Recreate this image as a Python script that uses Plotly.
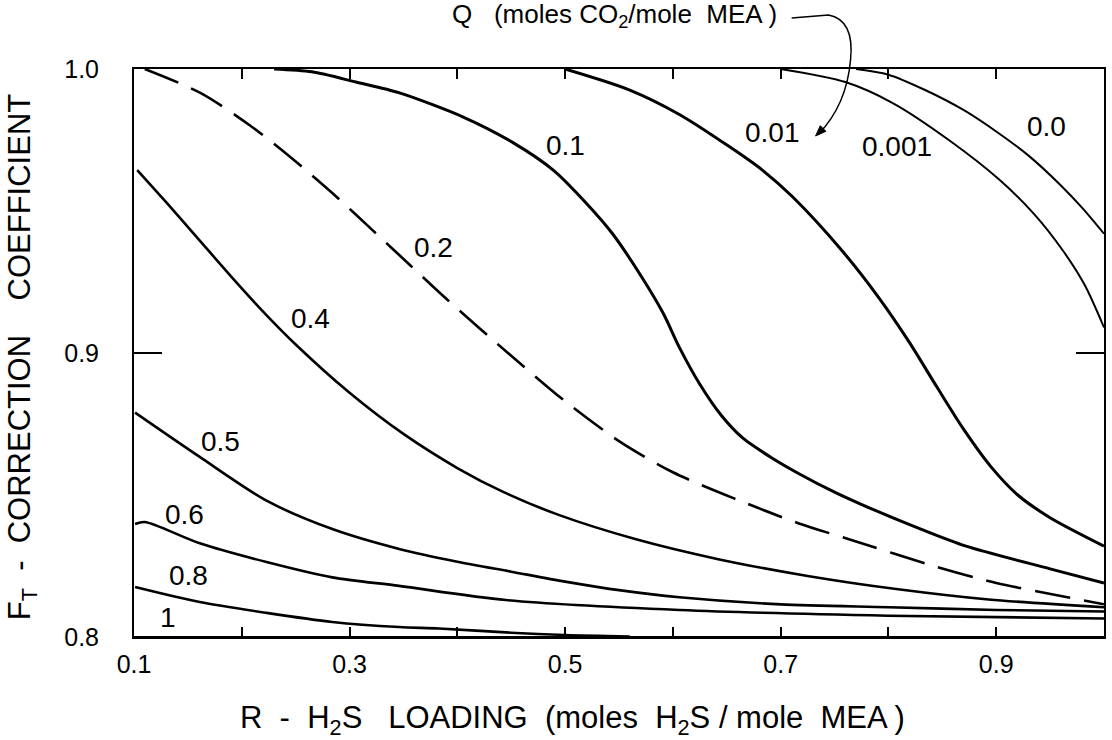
import plotly.graph_objects as go

# H2S loading R (moles H2S / mole MEA) and correction coefficient F_T, one pair per CO2 loading Q
r_q0 = [0.77, 0.80, 0.834, 0.87, 0.90, 0.93, 0.96, 0.98, 1.0]
f_q0 = [1.0, 0.998, 0.9926, 0.9855, 0.978, 0.9695, 0.959, 0.951, 0.942]

r_q0001 = [0.70, 0.76, 0.804, 0.856, 0.903, 0.935, 0.962, 0.982, 1.0]
f_q0001 = [1.0, 0.9954, 0.988, 0.975, 0.961, 0.949, 0.936, 0.924, 0.909]

r_q001 = [0.50, 0.56, 0.606, 0.653, 0.683, 0.711, 0.757, 0.792, 0.819, 0.845, 0.87, 0.895, 0.92, 0.95, 1.0]
f_q001 = [1.0, 0.9926, 0.984, 0.9725, 0.9644, 0.955, 0.936, 0.919, 0.904, 0.888, 0.873, 0.860, 0.850, 0.842,
          0.832]

r_q01 = [0.23, 0.265, 0.306, 0.347, 0.406, 0.452, 0.489, 0.519, 0.544, 0.569, 0.591, 0.606, 0.625, 0.645,
         0.665, 0.69, 0.717, 0.75, 0.779, 0.83, 0.872, 0.95, 1.0]
f_q01 = [1.0, 0.999, 0.9954, 0.9915, 0.983, 0.974, 0.9644, 0.953, 0.942, 0.928, 0.914, 0.902, 0.889, 0.878,
         0.870, 0.8635, 0.8575, 0.851, 0.846, 0.838, 0.832, 0.824, 0.819]

r_q02 = [0.11, 0.162, 0.208, 0.245, 0.285, 0.322, 0.356, 0.39, 0.45, 0.5, 0.55, 0.6, 0.662, 0.717, 0.767,
         0.842, 0.9, 0.966, 1.0]
f_q02 = [1.0, 0.9915, 0.980, 0.969, 0.956, 0.943, 0.931, 0.919, 0.899, 0.883, 0.869, 0.858, 0.848, 0.840,
         0.834, 0.825, 0.819, 0.814, 0.8115]

r_q04 = [0.103, 0.13, 0.16, 0.19, 0.22, 0.25, 0.3, 0.35, 0.4, 0.443, 0.494, 0.565, 0.641, 0.725, 0.809,
         0.893, 1.0]
f_q04 = [0.9644, 0.953, 0.940, 0.927, 0.9145, 0.903, 0.886, 0.8715, 0.8595, 0.851, 0.843, 0.8345, 0.8275,
         0.8215, 0.8168, 0.8132, 0.8105]

r_q05 = [0.101, 0.161, 0.223, 0.284, 0.346, 0.4, 0.45, 0.5, 0.55, 0.606, 0.7, 0.8, 0.9, 1.0]
f_q05 = [0.879, 0.8634, 0.848, 0.838, 0.831, 0.8265, 0.823, 0.8195, 0.8165, 0.814, 0.8115, 0.8105, 0.8095,
         0.809]

r_q06 = [0.101, 0.11, 0.161, 0.223, 0.284, 0.346, 0.445, 0.606, 0.8, 1.0]
f_q06 = [0.8398, 0.8405, 0.833, 0.8264, 0.821, 0.818, 0.813, 0.8095, 0.8075, 0.8065]

r_q08 = [0.101, 0.161, 0.223, 0.284, 0.346, 0.383, 0.45, 0.5, 0.56]
f_q08 = [0.8176, 0.8123, 0.8085, 0.8053, 0.8035, 0.803, 0.8015, 0.8007, 0.8002]

r_q1 = [0.1, 0.4, 0.7, 1.0]
f_q1 = [0.8, 0.8, 0.8, 0.8]

# curve label text and where each label sits (R, F_T)
q_labels = ["0.0", "0.001", "0.01", "0.1", "0.2", "0.4", "0.5", "0.6", "0.8", "1"]
label_r = [0.947, 0.808, 0.692, 0.500, 0.378, 0.264, 0.180, 0.147, 0.151, 0.1315]
label_f = [0.9796, 0.9727, 0.9775, 0.9732, 0.9373, 0.9123, 0.869, 0.8433, 0.8215, 0.8067]

x_tick_vals = [0.1, 0.3, 0.5, 0.7, 0.9]
x_tick_text = ["0.1", "0.3", "0.5", "0.7", "0.9"]
x_minor_vals = [0.2, 0.4, 0.6, 0.8]
y_tick_vals = [0.8, 0.9, 1.0]
y_tick_text = ["0.8", "0.9", "1.0"]

FONT = "Liberation Sans, Arial, sans-serif"
INK = "black"

series = [
    (r_q0, f_q0, 2.0, "solid"),
    (r_q0001, f_q0001, 2.0, "solid"),
    (r_q001, f_q001, 3.0, "solid"),
    (r_q01, f_q01, 3.0, "solid"),
    (r_q02, f_q02, 2.6, "36px,14px"),
    (r_q04, f_q04, 2.6, "solid"),
    (r_q05, f_q05, 2.6, "solid"),
    (r_q06, f_q06, 2.6, "solid"),
    (r_q08, f_q08, 2.6, "solid"),
    (r_q1, f_q1, 2.0, "solid"),
]

fig = go.Figure()
for (rx, fy, w, dash), name in zip(series, q_labels):
    fig.add_trace(go.Scatter(
        x=rx, y=fy, mode="lines", name=name,
        line=dict(color=INK, width=w, dash=dash, shape="spline", smoothing=0.8),
        hoverinfo="skip",
    ))

annotations = []
for txt, lx, ly in zip(q_labels, label_r, label_f):
    annotations.append(dict(
        x=lx, y=ly, xref="x", yref="y", text=txt, showarrow=False,
        font=dict(family=FONT, size=28, color=INK), xanchor="center", yanchor="middle",
    ))

# axis titles
annotations.append(dict(
    x=0.4517, y=-0.146, xref="paper", yref="paper",
    text="R  -  H<sub>2</sub>S   LOADING  (moles  H<sub>2</sub>S / mole  MEA )",
    showarrow=False, font=dict(family=FONT, size=31, color=INK),
    xanchor="center", yanchor="middle",
))
annotations.append(dict(
    x=-0.1152, y=0.493, xref="paper", yref="paper",
    text="F<sub>T</sub>  -  CORRECTION    COEFFICIENT",
    showarrow=False, textangle=-90, font=dict(family=FONT, size=31, color=INK),
    xanchor="center", yanchor="middle",
))
# Q key above the frame
annotations.append(dict(
    x=0.495, y=1.095, xref="paper", yref="paper",
    text="Q   (moles CO<sub>2</sub>/mole  MEA )",
    showarrow=False, font=dict(family=FONT, size=26, color=INK),
    xanchor="center", yanchor="middle",
))

shapes = [
    # curved pointer from the Q key down into the plot
    dict(
        type="path", xref="paper", yref="paper",
        path="M 0.678 1.0898 L 0.716 1.095 Q 0.743 1.0863 0.7387 1.0158 Q 0.7346 0.9366 0.7058 0.8856",
        line=dict(color=INK, width=1.5),
    ),
    # its arrowhead
    dict(
        type="path", xref="paper", yref="paper",
        path="M 0.70267 0.88204 L 0.71327 0.89032 L 0.70751 0.90018 Z",
        line=dict(color=INK, width=1), fillcolor=INK,
    ),
]

fig.update_layout(
    width=1112, height=740,
    margin=dict(l=134, r=6, t=69, b=103),
    paper_bgcolor="white", plot_bgcolor="white",
    showlegend=False,
    annotations=annotations,
    shapes=shapes,
    xaxis=dict(
        range=[0.1, 1.0], tickvals=x_tick_vals, ticktext=x_tick_text,
        ticks="inside", ticklen=10, tickwidth=1.5, tickcolor=INK,
        minor=dict(tickvals=x_minor_vals, ticks="inside", ticklen=10, tickwidth=1.5, tickcolor=INK),
        showline=True, linewidth=2, linecolor=INK, mirror="ticks",
        showgrid=False, zeroline=False, ticklabelstandoff=4,
        tickfont=dict(family=FONT, size=25, color=INK),
    ),
    yaxis=dict(
        range=[0.8, 1.0], tickvals=y_tick_vals, ticktext=y_tick_text,
        ticks="inside", ticklen=28, tickwidth=1.5, tickcolor=INK,
        showline=True, linewidth=2, linecolor=INK, mirror="ticks",
        showgrid=False, zeroline=False, ticklabelstandoff=28,
        tickfont=dict(family=FONT, size=25, color=INK),
    ),
)

fig.write_html("out.html")
